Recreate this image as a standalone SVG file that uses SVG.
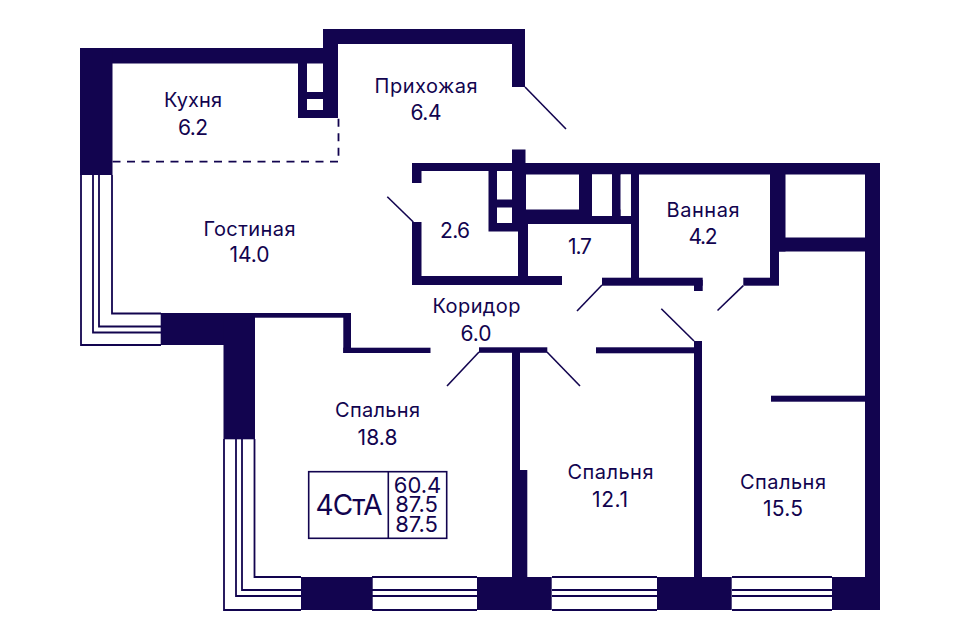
<svg xmlns="http://www.w3.org/2000/svg" width="960" height="640" viewBox="0 0 960 640">
<style>
.w{fill:#12044f}
.h{fill:#fff}
.l{fill:none;stroke:#12044f;stroke-width:1.8}
.d{fill:none;stroke:#12044f;stroke-width:1.6}
.g{fill:none;stroke:#12044f;stroke-width:1.8;stroke-dasharray:8 6.5}
text{font-family:"Inter","Liberation Sans",sans-serif;fill:#12044f;text-anchor:middle;font-size:20px}
.n{font-size:21px}
.c{font-size:28px}
.a{font-size:22px}
</style>
<rect width="960" height="640" fill="#fff"/>
<g id="walls">
<rect class="w" x="80" y="48" width="258" height="15.5"/>
<rect class="w" x="80" y="48" width="32.5" height="127"/>
<rect class="w" x="323" y="29" width="202" height="15"/>
<rect class="w" x="323" y="29" width="15" height="89"/>
<rect class="w" x="298" y="48" width="40" height="70"/>
<rect class="h" x="307" y="63.5" width="16" height="28.5"/>
<rect class="h" x="307" y="99" width="16" height="11"/>
<rect class="w" x="512" y="29" width="13" height="58"/>
<rect class="w" x="412" y="163" width="468" height="8"/>
<rect class="w" x="526" y="163" width="354" height="11.5"/>
<rect class="w" x="412" y="163" width="9.5" height="20"/>
<rect class="w" x="412" y="222" width="9.5" height="63"/>
<rect class="w" x="412" y="276" width="150" height="9"/>
<rect class="w" x="512" y="149.5" width="13.5" height="25"/>
<rect class="w" x="488.5" y="163" width="37.5" height="68.5"/>
<rect class="h" x="497" y="171" width="15" height="28.5"/>
<rect class="h" x="497" y="207.5" width="15" height="15.5"/>
<rect class="w" x="518" y="224" width="10" height="55"/>
<rect class="w" x="526" y="209.5" width="113" height="14.5"/>
<rect class="w" x="579" y="174" width="13" height="40"/>
<rect class="w" x="612" y="174" width="8.7" height="40"/>
<rect class="h" x="592" y="174.5" width="20" height="41.5"/>
<rect class="h" x="620.7" y="174.5" width="10.3" height="41.5"/>
<rect class="w" x="631" y="163" width="8" height="120"/>
<rect class="w" x="602" y="277.7" width="100.7" height="8"/>
<rect class="w" x="694" y="280" width="8.7" height="11"/>
<rect class="w" x="743.3" y="277.7" width="35.7" height="8"/>
<rect class="w" x="770" y="163" width="15.5" height="88.5"/>
<rect class="w" x="770" y="240" width="9" height="45"/>
<rect class="w" x="779" y="237.5" width="90" height="14"/>
<rect class="w" x="865" y="163" width="15" height="447"/>
<rect class="w" x="771" y="395.7" width="95" height="6"/>
<rect class="w" x="694" y="341" width="8" height="237"/>
<rect class="w" x="596" y="347.3" width="100" height="6"/>
<rect class="w" x="479" y="347.3" width="68.3" height="5.5"/>
<rect class="w" x="512" y="350" width="8" height="122"/>
<rect class="w" x="512" y="470" width="15.3" height="108"/>
<rect class="w" x="160.7" y="313" width="94.3" height="32"/>
<rect class="w" x="223.5" y="313" width="31.5" height="126.3"/>
<rect class="w" x="250" y="313" width="101" height="4.7"/>
<rect class="w" x="343.3" y="313" width="7.7" height="40"/>
<rect class="w" x="343.3" y="347.7" width="87.2" height="5.3"/>
<rect class="w" x="301" y="577" width="71.7" height="33"/>
<rect class="w" x="477" y="577" width="74.7" height="33"/>
<rect class="w" x="657" y="577" width="74.7" height="33"/>
<rect class="w" x="832" y="577" width="48" height="33"/>
</g>
<g id="windows">
<path class="l" d="M81 175V345H161M93 175V332.5H161M99 175V326.5H161M112 175V313.5H161"/>
<path class="l" d="M224 439V610H301M236 439V596H301M242 439V590H301M254.5 439V577H301"/>
<path class="l" d="M372 577H477M372 590H477M372 596H477M372 610H477"/>
<path class="l" d="M552 577H657M552 590H657M552 596H657M552 610H657"/>
<path class="l" d="M732 577H832M732 590H832M732 596H832M732 610H832"/>
</g>
<g id="connectors">
<path class="g" d="M112.5 161.7H338.5V118"/>
<path class="d" d="M525 87L566 129"/>
<path class="d" d="M387.3 196.7L413.3 222"/>
<path class="d" d="M602 285L577 311"/>
<path class="d" d="M743.3 285.7L717.5 310.5"/>
<path class="d" d="M661.3 308.7L694 341"/>
<path class="d" d="M479 352L447 386"/>
<path class="d" d="M547 352L580 386"/>
</g>
<g id="labels">
<g id="kitchen"><text x="193" y="107" textLength="58">Кухня</text><text class="n" x="193" y="135" textLength="30">6.2</text></g>
<g id="hall"><text x="426" y="93" textLength="103">Прихожая</text><text class="n" x="426" y="120" textLength="31">6.4</text></g>
<g id="living"><text x="249.5" y="236" textLength="92">Гостиная</text><text class="n" x="249.5" y="262" textLength="40">14.0</text></g>
<g id="wc1"><text class="n" x="455" y="238" textLength="30">2.6</text></g>
<g id="wc2"><text class="n" x="580" y="254" textLength="24">1.7</text></g>
<g id="bath"><text x="703" y="216.5" textLength="73">Ванная</text><text class="n" x="703" y="244" textLength="29">4.2</text></g>
<g id="corridor"><text x="476.5" y="313" textLength="88">Коридор</text><text class="n" x="476" y="341" textLength="31">6.0</text></g>
<g id="bed1"><text x="377.5" y="417" textLength="85">Спальня</text><text class="n" x="377.5" y="445" textLength="40">18.8</text></g>
<g id="bed2"><text x="610.5" y="479" textLength="86">Спальня</text><text class="n" x="610" y="507" textLength="36">12.1</text></g>
<g id="bed3"><text x="783" y="489" textLength="86">Спальня</text><text class="n" x="783" y="516" textLength="40">15.5</text></g>
</g>
<g id="stamp">
<rect x="308.7" y="471.7" width="138" height="66.6" fill="none" stroke="#12044f" stroke-width="1.6"/>
<path class="d" d="M388.3 471.7V538.3"/>
<text class="c" x="349" y="515" textLength="67">4СтА</text>
<text class="a"><tspan x="417.5" y="493">60.4</tspan><tspan x="416.5" y="512">87.5</tspan><tspan x="416.5" y="531.5">87.5</tspan></text>
</g>
</svg>
